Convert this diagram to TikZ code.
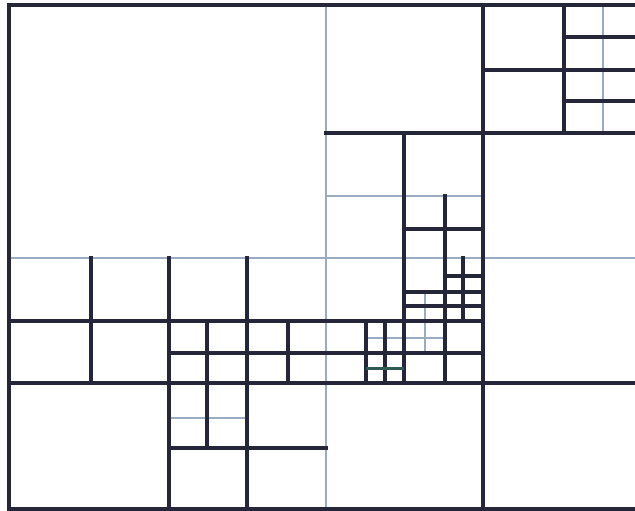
\documentclass[tikz,border=0pt]{standalone}
\definecolor{darkline}{HTML}{26263A}
\definecolor{lightline}{HTML}{9CABC4}
\definecolor{greenline}{HTML}{2F5A52}
\tikzset{
  heavy/.style={draw=darkline, line width=3.2pt, line cap=rect},
  thin/.style={draw=lightline, line width=1.4pt},
  greenish/.style={draw=greenline, line width=3pt}
}
\begin{document}
\begin{tikzpicture}[x=1pt,y=-1pt]
\useasboundingbox[fill=white] (0,0) rectangle (635,511);
% light (thin) lines
\draw[thin] (326,5) -- (326,509);
\draw[thin] (9,258) -- (635,258);
\draw[thin] (603,5) -- (603,133);
\draw[thin] (326,196) -- (483,196);
\draw[thin] (425,292) -- (425,353);
\draw[thin] (366,338) -- (445,338);
\draw[thin] (169,418) -- (247,418);
% border
\draw[heavy] (635,5) -- (9,5) -- (9,509) -- (635,509);
% main heavy lines
\draw[heavy] (326,133) -- (635,133);
\draw[heavy] (483,5) -- (483,509);
\draw[heavy] (9,383) -- (635,383);
% top-right cell
\draw[heavy] (483,70) -- (635,70);
\draw[heavy] (564,5) -- (564,133);
\draw[heavy] (564,37) -- (635,37);
\draw[heavy] (564,101) -- (635,101);
% middle cells
\draw[heavy] (404,133) -- (404,383);
\draw[heavy] (445,196) -- (445,383);
\draw[heavy] (404,229) -- (483,229);
\draw[heavy] (445,276) -- (483,276);
\draw[heavy] (463,258) -- (463,321);
\draw[heavy] (404,292) -- (483,292);
\draw[heavy] (404,306) -- (483,306);
\draw[heavy] (9,321) -- (483,321);
\draw[heavy] (366,321) -- (366,383);
\draw[heavy] (385,321) -- (385,383);
\draw[heavy] (169,353) -- (483,353);
\draw[greenish] (366,368) -- (404,368);
% left cells
\draw[heavy] (91,258) -- (91,383);
\draw[heavy] (169,258) -- (169,509);
\draw[heavy] (247,258) -- (247,509);
\draw[heavy] (207,321) -- (207,448);
\draw[heavy] (288,321) -- (288,383);
\draw[heavy] (169,448) -- (326,448);
\end{tikzpicture}
\end{document}
